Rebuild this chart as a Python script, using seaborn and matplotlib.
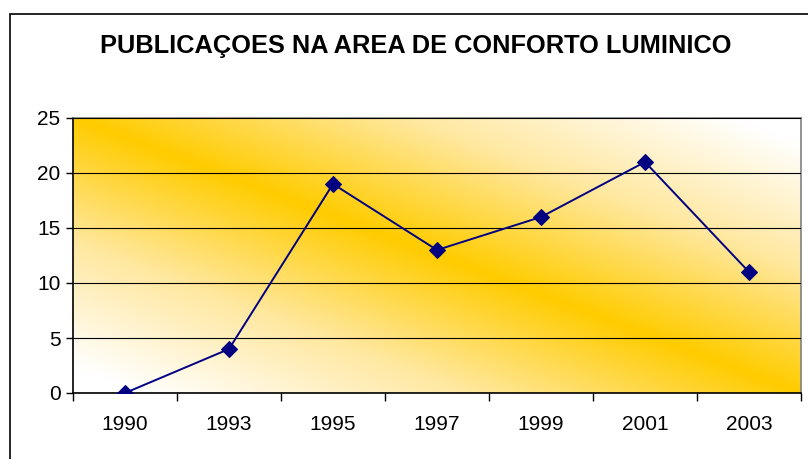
import numpy as np
import pandas as pd
import matplotlib
matplotlib.use("Agg")
import matplotlib.pyplot as plt
import seaborn as sns
from matplotlib.colors import LinearSegmentedColormap
from matplotlib.patches import Rectangle

# Data
years = ["1990", "1993", "1995", "1997", "1999", "2001", "2003"]
publications = [0, 4, 19, 13, 16, 21, 11]
y_ticks = [0, 5, 10, 15, 20, 25]

title = "PUBLICAÇOES NA AREA DE CONFORTO LUMINICO"

sns.set_style("white")
plt.rcParams['font.family'] = ['Liberation Sans', 'DejaVu Sans']
plt.rcParams['text.color'] = 'black'
plt.rcParams['xtick.color'] = 'black'
plt.rcParams['ytick.color'] = 'black'

fig = plt.figure(figsize=(8.08, 4.59), dpi=100)
ax = fig.add_axes([73 / 808, 1 - 393 / 459, 728 / 808, 275 / 459])

# Outer chart frame (cropped on the right and bottom)
fig.patches.append(Rectangle((10 / 808, -0.2), 1.2, 1 - 14 / 459 + 0.2,
                             transform=fig.transFigure, fill=False,
                             edgecolor="black", linewidth=1.2, zorder=0))

# Diagonal gold gradient behind the plot
nx, ny = 400, 200
u, v = np.meshgrid(np.linspace(0, 1, nx), np.linspace(1, 0, ny))
d = np.clip(np.abs(u + v - 1) * 1.1, 0, 1)
cmap = LinearSegmentedColormap.from_list("gold", ["#FFCC00", "#FFE8A0", "#FFFFFF"])
ax.imshow(d, cmap=cmap, extent=[0, 1, 0, 1], transform=ax.transAxes,
          aspect="auto", zorder=0, vmin=0, vmax=1)

df = pd.DataFrame({"year": years, "count": publications})
sns.lineplot(data=df, x="year", y="count", ax=ax, color="#000080",
             marker="D", markersize=8, markeredgecolor="#000080",
             linewidth=1.4, zorder=3)

n = len(years)
ax.set_xlim(-0.5, n - 0.5)
ax.set_ylim(0, 25)
ax.set_yticks(y_ticks)
ax.set_xticks(np.arange(n + 1) - 0.5)
ax.set_xticklabels([])
ax.set_xticks(np.arange(n), minor=True)
ax.set_xticklabels(years, minor=True)
ax.tick_params(axis="x", which="major", length=6, width=1, direction="out",
               bottom=True)
ax.tick_params(axis="x", which="minor", length=0, pad=16, labelsize=15)
ax.tick_params(axis="y", length=5, width=1, direction="out",
               left=True, labelsize=15, pad=4)

ax.yaxis.grid(True, color="black", linewidth=0.8)
ax.set_axisbelow(False)
for line in ax.get_ygridlines():
    line.set_zorder(1)

ax.set_xlabel("")
ax.set_ylabel("")

ax.spines["left"].set_color("black")
ax.spines["bottom"].set_color("black")
ax.spines["top"].set_color("#808080")
ax.spines["right"].set_color("#808080")
for s in ax.spines.values():
    s.set_linewidth(1.2)
    s.set_visible(True)

fig.text(416 / 808, 1 - 46 / 459, title, ha="center", va="center",
         fontsize=18.3, fontweight="bold")

fig.savefig("out.png", dpi=100)
